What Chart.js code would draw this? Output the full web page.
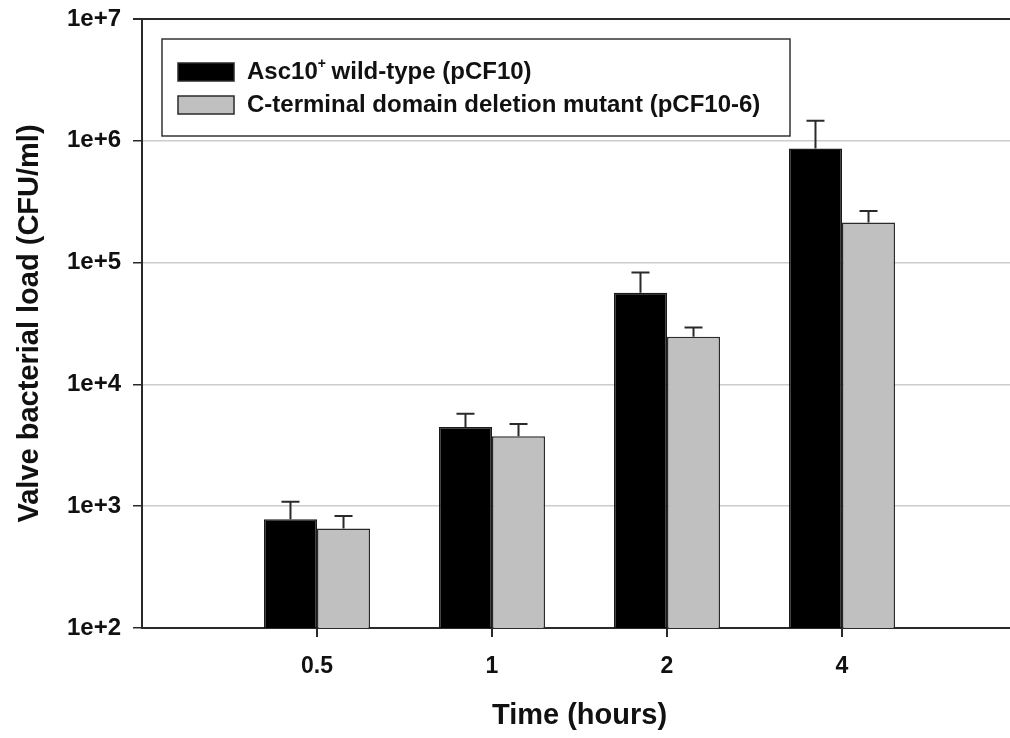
<!DOCTYPE html>
<html lang="en">

<head>
    <meta charset="UTF-8">
    <title>Valve bacterial load over time</title>
    <script src="https://cdn.jsdelivr.net/npm/chart.js"></script>
    <style>
        html, body {
            margin: 0;
            padding: 0;
            background: #fff;
            overflow: hidden;
        }
        #loadChart {
            display: block;
        }
    </style>
</head>

<body>
    <canvas id="loadChart" width="1020" height="738"></canvas>

    <script>
        // Sampling times (hours) and log-scale decade ticks
        const timeLabels = ['0.5', '1', '2', '4'];
        const yTicks = [1e2, 1e3, 1e4, 1e5, 1e6, 1e7];

        // Mean valve load (CFU/ml) and upper error (SEM) for each strain
        const wildTypeMean = [780, 4470, 56500, 865000];
        const wildTypeErr = [310, 1280, 26500, 595000];
        const mutantMean = [655, 3750, 24600, 213000];
        const mutantErr = [175, 980, 4700, 52000];

        const seriesNames = ['Asc10\u207A wild-type (pCF10)', 'C-terminal domain deletion mutant (pCF10-6)'];

        // empty slot on both sides of the four groups
        const xLabels = [''].concat(timeLabels, ['']);
        const pad = arr => [null].concat(arr, [null]);

        const FONT = 'Arial, "Liberation Sans", sans-serif';
        const ink = '#2a2a2a';

        // upper whiskers only
        const errorBars = {
            id: 'errorBars',
            afterDatasetsDraw(chart) {
                const ctx = chart.ctx;
                const y = chart.scales.y;
                ctx.save();
                ctx.strokeStyle = ink;
                ctx.lineWidth = 2;
                chart.data.datasets.forEach((ds, i) => {
                    const meta = chart.getDatasetMeta(i);
                    meta.data.forEach((bar, j) => {
                        const v = ds.data[j];
                        if (v == null) return;
                        const top = y.getPixelForValue(v + ds.errors[j]);
                        ctx.beginPath();
                        ctx.moveTo(bar.x, bar.y);
                        ctx.lineTo(bar.x, top);
                        ctx.moveTo(bar.x - 9, top);
                        ctx.lineTo(bar.x + 9, top);
                        ctx.stroke();
                    });
                });
                ctx.restore();
            }
        };

        // boxed legend in the upper left of the plot
        const boxLegend = {
            id: 'boxLegend',
            afterDraw(chart) {
                const ctx = chart.ctx;
                const a = chart.chartArea;
                const x0 = a.left + 20, y0 = a.top + 20, w = 628, h = 97;
                ctx.save();
                ctx.fillStyle = '#fff';
                ctx.fillRect(x0, y0, w, h);
                ctx.strokeStyle = '#333';
                ctx.lineWidth = 1.5;
                ctx.strokeRect(x0, y0, w, h);

                chart.data.datasets.forEach((ds, i) => {
                    const cy = y0 + 33 + i * 33;
                    ctx.fillStyle = ds.backgroundColor;
                    ctx.fillRect(x0 + 16, cy - 9, 56, 18);
                    ctx.strokeStyle = ink;
                    ctx.lineWidth = 1.5;
                    ctx.strokeRect(x0 + 16, cy - 9, 56, 18);

                    // handle the superscript plus by hand
                    ctx.fillStyle = '#111';
                    ctx.textBaseline = 'middle';
                    let tx = x0 + 85;
                    ds.label.split('\u207A').forEach((part, k) => {
                        if (k > 0) {
                            ctx.font = 'bold 14px ' + FONT;
                            ctx.fillText('+', tx, cy - 8);
                            tx += ctx.measureText('+').width - 1;
                        }
                        ctx.font = 'bold 24px ' + FONT;
                        ctx.fillText(part, tx, cy);
                        tx += ctx.measureText(part).width;
                    });
                });
                ctx.restore();
            }
        };

        const ctx = document.getElementById('loadChart').getContext('2d');
        new Chart(ctx, {
            type: 'bar',
            data: {
                labels: xLabels,
                datasets: [{
                    label: seriesNames[0],
                    data: pad(wildTypeMean),
                    errors: pad(wildTypeErr),
                    backgroundColor: '#000000',
                    borderColor: '#1a1a1a',
                    borderWidth: 1.5
                }, {
                    label: seriesNames[1],
                    data: pad(mutantMean),
                    errors: pad(mutantErr),
                    backgroundColor: '#c0c0c0',
                    borderColor: ink,
                    borderWidth: 1.5
                }]
            },
            options: {
                responsive: false,
                animation: false,
                categoryPercentage: 0.606,
                barPercentage: 1,
                layout: { autoPadding: false, padding: { top: 19, right: 3, left: 0, bottom: 0 } },
                plugins: {
                    legend: { display: false },
                    tooltip: { enabled: false }
                },
                scales: {
                    x: {
                        type: 'category',
                        offset: false,
                        border: { color: ink, width: 2 },
                        grid: {
                            offset: false,
                            drawOnChartArea: false,
                            tickLength: 9,
                            lineWidth: 2,
                            color: ink,
                            tickColor: c => xLabels[c.index] ? ink : 'rgba(0,0,0,0)'
                        },
                        ticks: {
                            autoSkip: false,
                            maxRotation: 0,
                            padding: 16,
                            color: '#111',
                            font: { family: FONT, size: 23, weight: 'bold' }
                        },
                        title: {
                            display: true,
                            text: 'Time (hours)',
                            color: '#111',
                            padding: { bottom: 5 },
                            font: { family: FONT, size: 29, weight: 'bold' }
                        },
                        afterFit: s => {
                            s.height = 110;
                            s.paddingLeft = 0;
                            s.paddingRight = 0;
                        }
                    },
                    y: {
                        type: 'logarithmic',
                        min: 1e2,
                        max: 1e7,
                        afterBuildTicks: s => { s.ticks = yTicks.map(v => ({ value: v })); },
                        border: { color: ink, width: 2 },
                        grid: {
                            color: c => (c.tick && (c.tick.value === 1e7 || c.tick.value === 1e2)) ? ink : '#cccccc',
                            lineWidth: c => (c.tick && c.tick.value === 1e7) ? 2 : 1.5,
                            tickColor: ink,
                            tickLength: 9
                        },
                        ticks: {
                            padding: 12,
                            color: '#111',
                            font: { family: FONT, size: 24, weight: 'bold' },
                            callback: v => Number(v).toExponential(0)
                        },
                        title: {
                            display: true,
                            text: 'Valve bacterial load (CFU/ml)',
                            color: '#111',
                            padding: { top: 13 },
                            font: { family: FONT, size: 29, weight: 'bold' }
                        },
                        afterFit: s => {
                            s.width = 142;
                            s.paddingTop = 0;
                            s.paddingBottom = 0;
                        }
                    }
                }
            },
            plugins: [errorBars, boxLegend]
        });
    </script>
</body>

</html>
